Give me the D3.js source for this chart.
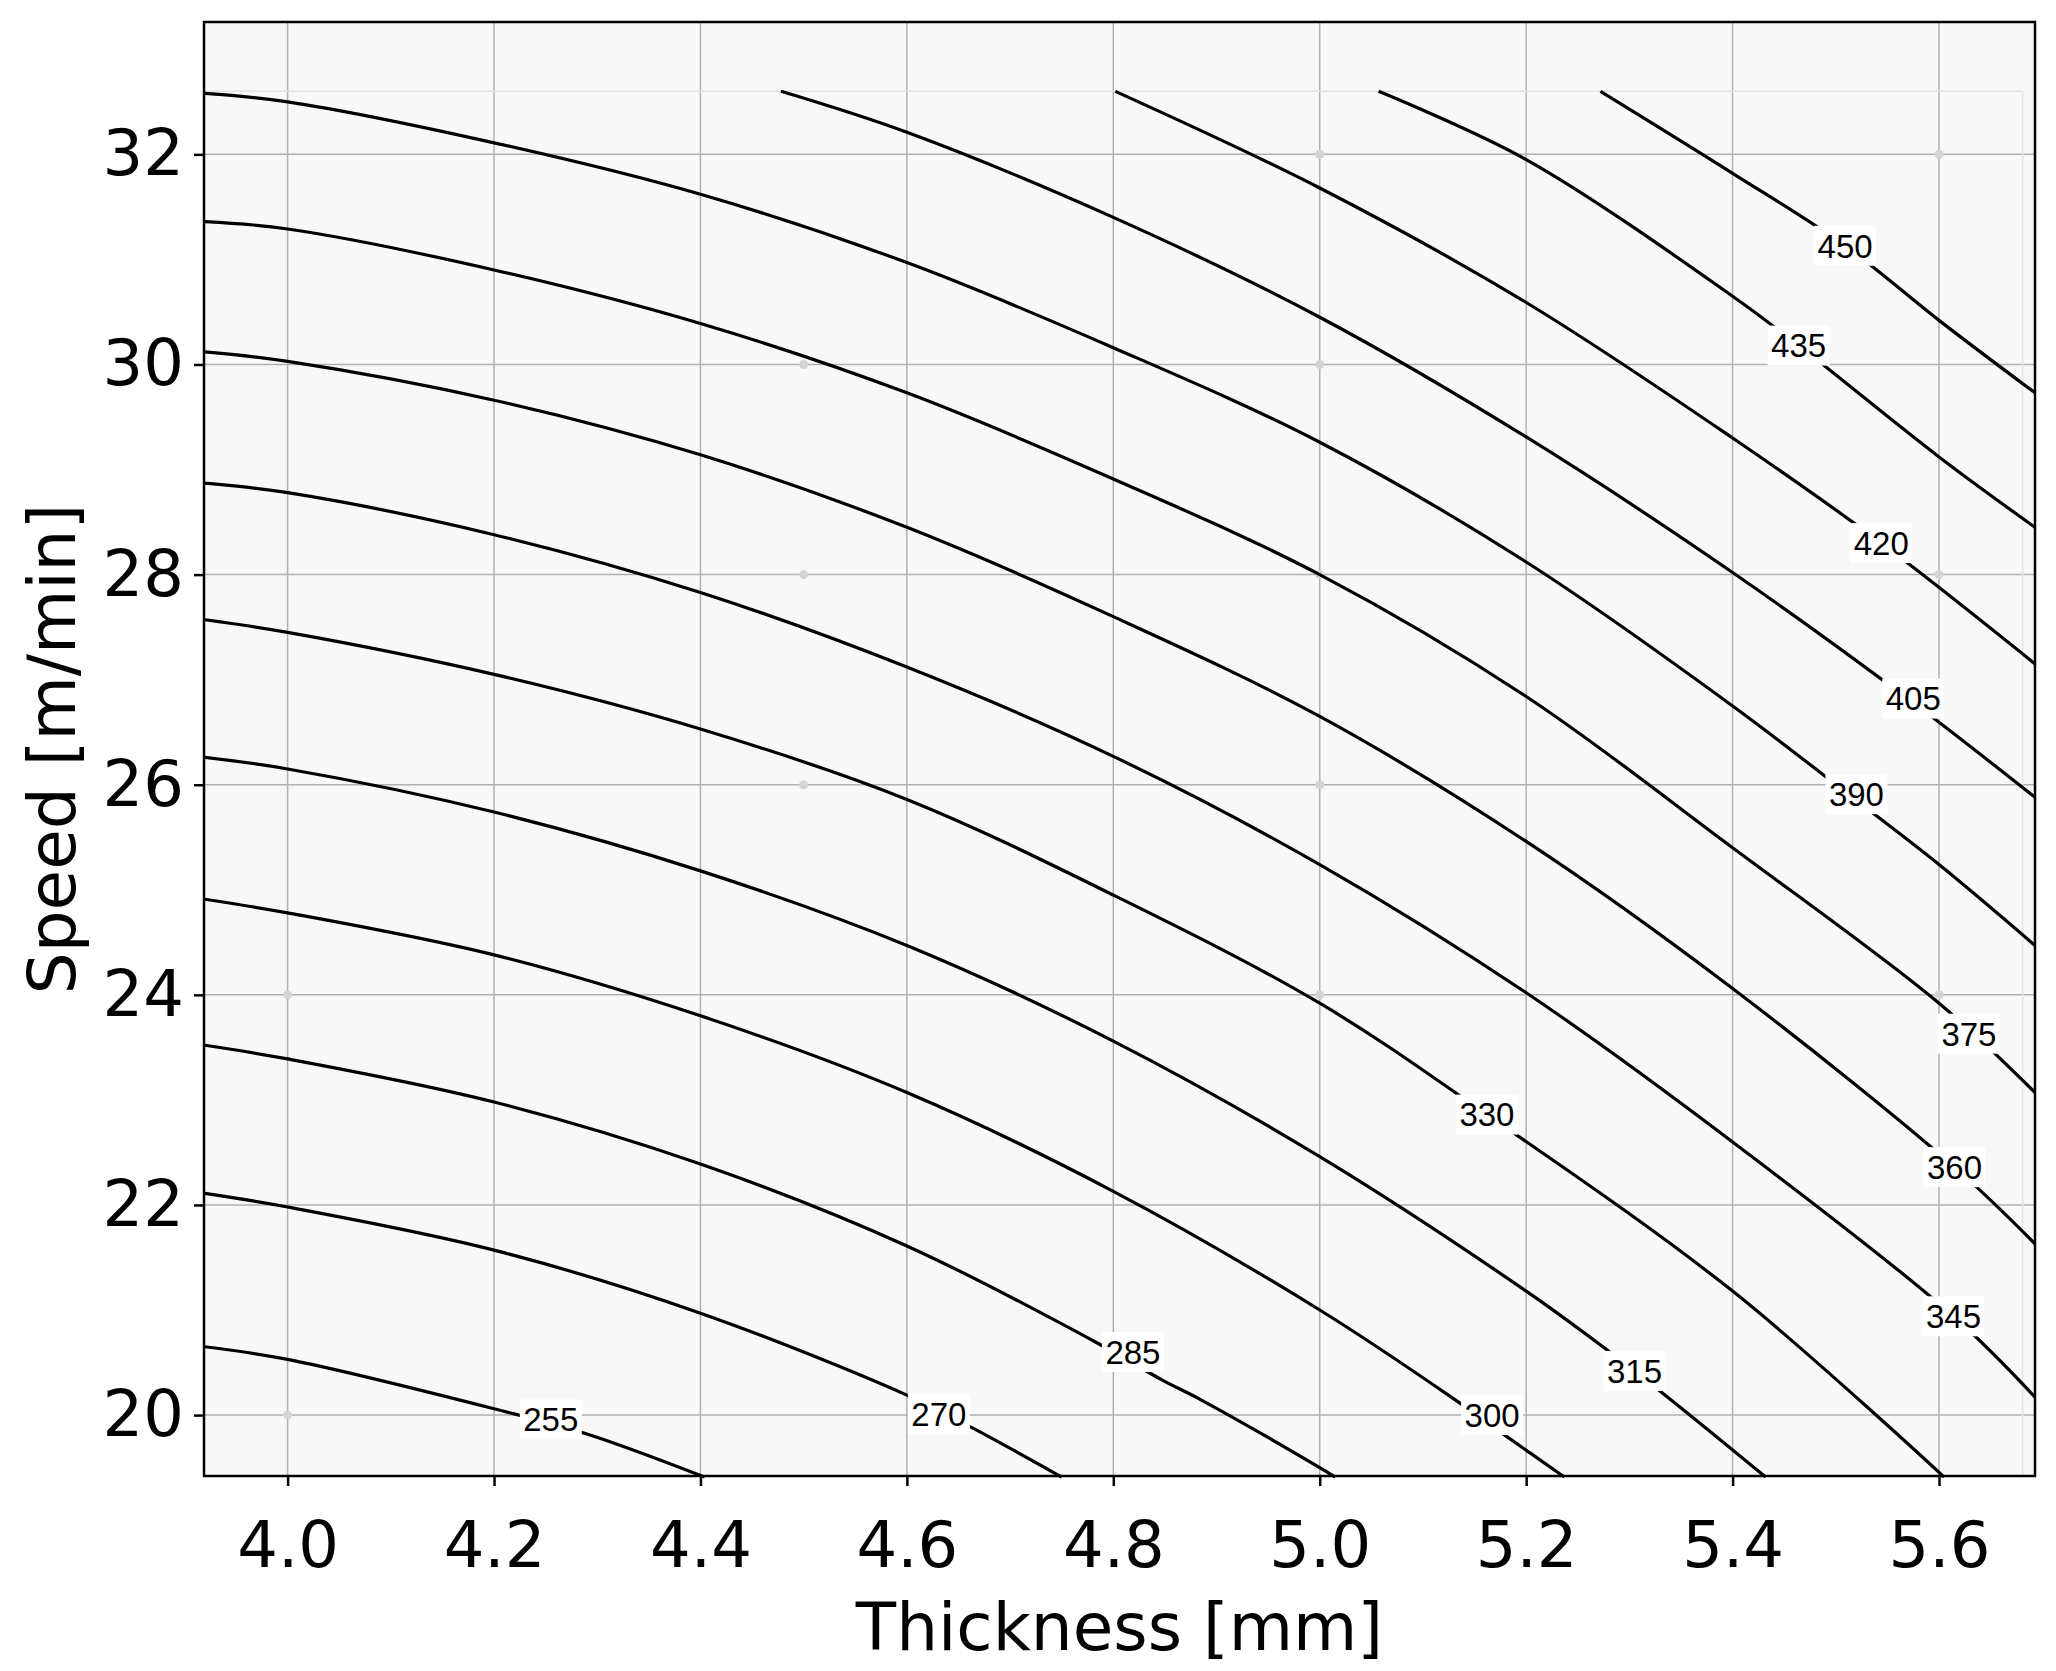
<!DOCTYPE html>
<html>
<head>
<meta charset="utf-8">
<script src="https://cdn.jsdelivr.net/npm/d3@7"></script>
<style>
  body { margin: 0; background: #fff; }
  svg { display: block; }
</style>
</head>
<body>
<svg id="chart" width="2056" height="1671"></svg>
<script>
// contour levels and their traced paths [thickness, speed]
const levels = [255, 270, 285, 300, 315, 330, 345, 360, 375, 390, 405, 420, 435, 450];

const c255 = [[3.92, 20.65], [4.0, 20.53], [4.2, 20.06], [4.29, 19.82], [4.404, 19.41]];
const c270 = [[3.92, 22.11], [4.0, 21.98], [4.2, 21.57], [4.4, 20.97], [4.6, 20.19], [4.663, 19.88], [4.75, 19.41]];
const c285 = [[3.92, 23.52], [4.0, 23.39], [4.2, 22.98], [4.4, 22.39], [4.6, 21.61], [4.78, 20.71], [4.848, 20.33], [4.884, 20.15], [5.0, 19.50], [5.015, 19.41]];
const c300 = [[3.92, 24.91], [4.0, 24.78], [4.2, 24.38], [4.4, 23.80], [4.6, 23.07], [4.8, 22.13], [5.0, 21.0], [5.132, 20.14], [5.182, 19.79], [5.237, 19.41]];
const c315 = [[3.92, 26.26], [4.0, 26.15], [4.2, 25.74], [4.4, 25.18], [4.6, 24.47], [4.8, 23.56], [5.0, 22.46], [5.2, 21.18], [5.273, 20.66], [5.332, 20.21], [5.432, 19.41]];
const c330 = [[3.92, 27.57], [4.0, 27.45], [4.2, 27.05], [4.4, 26.53], [4.6, 25.86], [4.8, 24.95], [5.0, 23.92], [5.162, 22.86], [5.4, 21.18], [5.605, 19.41]];
const c345 = [[3.92, 28.87], [4.0, 28.78], [4.2, 28.38], [4.4, 27.83], [4.6, 27.12], [4.8, 26.27], [5.0, 25.24], [5.2, 24.02], [5.4, 22.60], [5.614, 20.94], [5.693, 20.17]];
const c360 = [[3.92, 30.12], [4.0, 30.03], [4.2, 29.66], [4.4, 29.14], [4.6, 28.45], [4.8, 27.60], [5.0, 26.65], [5.2, 25.46], [5.4, 24.06], [5.615, 22.36], [5.693, 21.63]];
const c375 = [[3.92, 31.36], [4.0, 31.29], [4.2, 30.90], [4.4, 30.39], [4.6, 29.73], [4.8, 28.91], [5.0, 28.0], [5.2, 26.84], [5.4, 25.40], [5.6, 23.92], [5.693, 23.07]];
const c390 = [[3.92, 32.58], [4.0, 32.50], [4.2, 32.11], [4.4, 31.62], [4.6, 30.97], [4.8, 30.16], [5.0, 29.26], [5.2, 28.12], [5.4, 26.75], [5.52, 25.85], [5.6, 25.24], [5.693, 24.47]];
const c405 = [[4.478, 32.60], [4.6, 32.21], [4.8, 31.40], [5.0, 30.45], [5.2, 29.31], [5.4, 28.02], [5.575, 26.78], [5.693, 25.88]];
const c420 = [[4.802, 32.60], [5.0, 31.68], [5.2, 30.59], [5.4, 29.30], [5.544, 28.30], [5.693, 27.15]];
const c435 = [[5.057, 32.60], [5.2, 31.95], [5.4, 30.65], [5.464, 30.18], [5.6, 29.12], [5.693, 28.45]];
const c450 = [[5.272, 32.60], [5.4, 31.82], [5.509, 31.13], [5.6, 30.42], [5.693, 29.73]];
const contours = [c255, c270, c285, c300, c315, c330, c345, c360, c375, c390, c405, c420, c435, c450];

// inline label positions, same order as levels
const labelPos = [[4.255, 19.96], [4.631, 20.01], [4.819, 20.60], [5.167, 20.0], [5.305, 20.42], [5.162, 22.86],
  [5.614, 20.94], [5.615, 22.36], [5.629, 23.63], [5.52, 25.91], [5.575, 26.82], [5.544, 28.30], [5.464, 30.18], [5.509, 31.13]];

// faint design points
const designPoints = [[4.0, 24], [4.0, 20], [4.5, 30], [4.5, 28], [4.5, 26], [5.0, 32], [5.0, 30], [5.0, 28],
  [5.0, 26], [5.0, 24], [5.6, 32], [5.6, 28], [5.6, 24]];

const xTicks = [4.0, 4.2, 4.4, 4.6, 4.8, 5.0, 5.2, 5.4, 5.6];
const yTicks = [20, 22, 24, 26, 28, 30, 32];

const margin = {left: 204, right: 21, top: 22, bottom: 195};
const W = 2056, H = 1671;
const svg = d3.select("#chart");

const x = d3.scaleLinear().domain([3.919, 5.693]).range([margin.left, W - margin.right]);
const y = d3.scaleLinear().domain([19.42, 33.26]).range([H - margin.bottom, margin.top]);

svg.append("rect")
  .attr("x", margin.left).attr("y", margin.top)
  .attr("width", W - margin.left - margin.right)
  .attr("height", H - margin.top - margin.bottom)
  .attr("fill", "#f8f8f8");

// grid
svg.append("g").selectAll("line").data(xTicks).join("line")
  .attr("x1", d => x(d)).attr("x2", d => x(d))
  .attr("y1", margin.top).attr("y2", H - margin.bottom)
  .attr("stroke", "#b0b0b0").attr("stroke-width", 1.5);
svg.append("g").selectAll("line").data(yTicks).join("line")
  .attr("y1", d => y(d)).attr("y2", d => y(d))
  .attr("x1", margin.left).attr("x2", W - margin.right)
  .attr("stroke", "#b0b0b0").attr("stroke-width", 1.5);

// faint data-boundary lines
svg.append("line")
  .attr("x1", margin.left).attr("x2", x(5.681))
  .attr("y1", y(32.6)).attr("y2", y(32.6))
  .attr("stroke", "#e2e2e2").attr("stroke-width", 1.5);
svg.append("line")
  .attr("x1", x(5.681)).attr("x2", x(5.681))
  .attr("y1", y(32.6)).attr("y2", H - margin.bottom)
  .attr("stroke", "#e6e6e6").attr("stroke-width", 1.5);

svg.append("g").selectAll("circle").data(designPoints).join("circle")
  .attr("cx", d => x(d[0])).attr("cy", d => y(d[1])).attr("r", 4.5)
  .attr("fill", "#d4d4d4");

const line = d3.line().x(d => x(d[0])).y(d => y(d[1])).curve(d3.curveCatmullRom.alpha(0.5));
svg.append("g").selectAll("path").data(contours).join("path")
  .attr("d", line)
  .attr("fill", "none").attr("stroke", "#000").attr("stroke-width", 3.2);

// labels with white boxes
const lab = svg.append("g").selectAll("g").data(levels).join("g")
  .attr("transform", (d, i) => `translate(${x(labelPos[i][0])},${y(labelPos[i][1])})`);
lab.append("rect").attr("x", -31).attr("y", -20).attr("width", 62).attr("height", 40).attr("fill", "#fff");
lab.append("text")
  .attr("text-anchor", "middle").attr("dy", "0.36em")
  .attr("font-family", "Liberation Sans Narrow, Liberation Sans, sans-serif")
  .attr("font-size", 33).text(d => d);

// frame
svg.append("rect")
  .attr("x", margin.left).attr("y", margin.top)
  .attr("width", W - margin.left - margin.right)
  .attr("height", H - margin.top - margin.bottom)
  .attr("fill", "none").attr("stroke", "#000").attr("stroke-width", 2.5);

const xAxis = svg.append("g")
  .attr("transform", `translate(0,${H - margin.bottom})`)
  .call(d3.axisBottom(x).tickValues(xTicks).tickFormat(d3.format(".1f")).tickSize(10).tickPadding(36));
const yAxis = svg.append("g")
  .attr("transform", `translate(${margin.left},0)`)
  .call(d3.axisLeft(y).tickValues(yTicks).tickSize(10).tickPadding(10));
[xAxis, yAxis].forEach(a => {
  a.select(".domain").remove();
  a.selectAll(".tick line").attr("stroke", "#000").attr("stroke-width", 2.5);
  a.selectAll(".tick text").attr("font-family", "DejaVu Sans").attr("font-size", 64).attr("fill", "#000");
});

svg.append("text")
  .attr("x", (margin.left + W - margin.right) / 2).attr("y", 1650)
  .attr("text-anchor", "middle").attr("font-family", "DejaVu Sans").attr("font-size", 66)
  .text("Thickness [mm]");
svg.append("text")
  .attr("transform", `translate(75,${(margin.top + H - margin.bottom) / 2}) rotate(-90)`)
  .attr("text-anchor", "middle").attr("font-family", "DejaVu Sans").attr("font-size", 66)
  .text("Speed [m/min]");
</script>
</body>
</html>
